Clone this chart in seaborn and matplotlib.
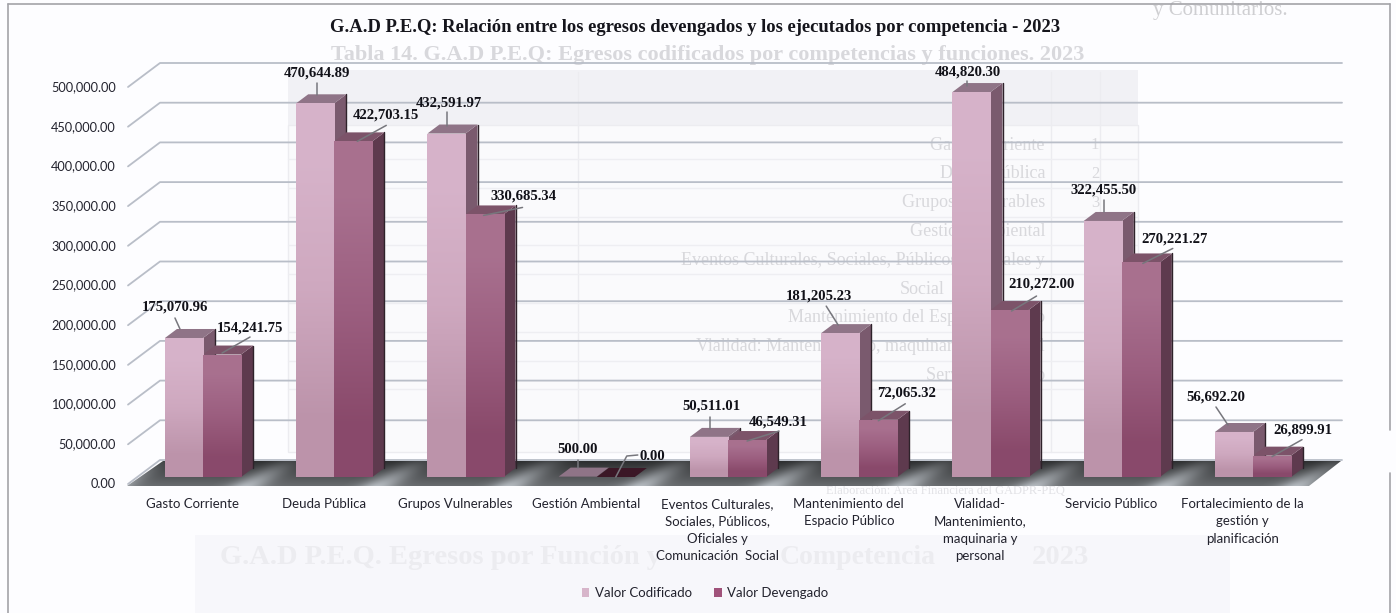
import matplotlib
matplotlib.use("Agg")
import matplotlib.pyplot as plt
from matplotlib.patches import Polygon, Rectangle
import numpy as np
import pandas as pd
import seaborn as sns

sns.set_style("white")

categorias = ['Gasto Corriente', 'Deuda Pública', 'Grupos Vulnerables', 'Gestión Ambiental',
              'Eventos Culturales,\nSociales, Públicos,\nOficiales y\nComunicación  Social',
              'Mantenimiento del\nEspacio Público',
              'Vialidad-\nMantenimiento,\nmaquinaria y\npersonal',
              'Servicio Público', 'Fortalecimiento de la\ngestión y\nplanificación']
codificado = [175070.96, 470644.89, 432591.97, 500.00, 50511.01, 181205.23, 484820.30, 322455.50, 56692.20]
devengado = [154241.75, 422703.15, 330685.34, 0.00, 46549.31, 72065.32, 210272.00, 270221.27, 26899.91]
ticks_y = [0, 50000, 100000, 150000, 200000, 250000, 300000, 350000, 400000, 450000, 500000]
titulo = 'G.A.D P.E.Q: Relación entre los egresos devengados y los ejecutados por competencia - 2023'

# faint text showing through from the back of the scanned page
fondo_filas = ['Gasto Corriente', 'Deuda Pública', 'Grupos Vulnerables', 'Gestión Ambiental',
               'Eventos Culturales, Sociales, Públicos, Oficiales y', 'Social',
               'Mantenimiento del Espacio Público', 'Vialidad: Mantenimiento, maquinaria y personal',
               'Servicio Público']
fondo_nums = ['1', '2', '3', '4', '5', '', '6', '7', '8']
fondo_fin = [1045, 1045, 1045, 1045, 1045, 945, 1045, 1045, 1045]
fondo_titulo = [('G.A.D P.E.Q. Egresos por Función y', 440, 20.5), ('Competencia', 858, 20), ('2023', 1060, 20.5)]

# label offsets from the top of each bar, in pixels: text centre, then leader points
off_cod = [((-9, 31), [(-9, 20), (-4, 9)]), ((2, 30), [(2, 20), (2, 8)]), ((2, 31), [(1, 22), (1, 8)]),
           ((0, 27), [(0, 17), (0, 9)]), ((2, 31), [(1, 20), (1, 8)]), ((-21, 37), [(-14, 27), (-2, 8)]),
           ((-4, 20), [(-4, 11), (-4, 6)]), ((1, 31), [(1, 21), (1, 9)]), ((-18, 35), [(-18, 25), (-6, 7)])]
off_dev = [((28, 26.5), [(28, 17.5), (0, 1.5)]), ((33, 26), [(33, 16), (4, 0)]), ((39, 18), [(38, 7), (-1, -1)]),
           ((37, 20), [(22, 22), (11, 21), (0, 0)]), ((31, 18), [(32, 9), (0, -1)]), ((28, 27), [(27, 16), (0, -1)]),
           ((32, 26), [(27, 14), (2, -1)]), ((34, 23), [(32, 14), (2, -1)]), ((31, 26), [(30, 16), (0, -1)])]

W, H = 1396, 613
GROUP_PX = 131.25
VAL_PX = 397 / 500000
X0_PX, Y0_PX = 203, 477
DX = 1 / GROUP_PX   # one pixel in category units
DY = 1 / VAL_PX     # one pixel in value units


def xp(px):
    return (px - X0_PX) * DX


def yp(py):
    return (Y0_PX - py) * DY


df = pd.DataFrame({
    'categoria': categorias * 2,
    'serie': ['Valor Codificado'] * 9 + ['Valor Devengado'] * 9,
    'valor': codificado + devengado,
})

fig = plt.figure(figsize=(W / 100, H / 100), dpi=100, facecolor='#FDFDFF')
ax = fig.add_axes([0, 0, 1, 1])
sns.barplot(data=df, x='categoria', y='valor', hue='serie', dodge=True, width=0.58, gap=0, ax=ax, errorbar=None,
            palette=['#D7B5CA', '#A0527A'], saturation=1, zorder=3, linewidth=0)

# ghost of the page behind
g = '#D8D8DC'
ax.add_patch(Rectangle((xp(288), yp(125)), 850 * DX, 55 * DY, fc='#F1F1F5', ec='none', zorder=0.2))
ax.add_patch(Rectangle((xp(288), yp(452)), 850 * DX, 327 * DY, fc='#FAFAFC', ec='#ECECF0', zorder=0.2))
ax.add_patch(Rectangle((xp(195), yp(H)), 1035 * DX, 78 * DY, fc='#F7F7FB', ec='none', zorder=0.2))
for px in [578, 1051, 1100]:
    ax.plot([xp(px), xp(px)], [yp(72), yp(452)], color='#ECECF0', lw=1, zorder=0.3)
ax.text(xp(1220), yp(11), 'y Comunitarios.', family='Liberation Serif', fontsize=15, color='#CFCFD2',
        ha='center', va='center', zorder=0.4)
ax.text(xp(708), yp(55), 'Tabla 14. G.A.D P.E.Q: Egresos codificados por competencias y funciones. 2023',
        family='Liberation Serif', fontweight='bold', fontsize=16, color=g, ha='center', va='center', zorder=0.4)
for i, (fila, num, fin) in enumerate(zip(fondo_filas, fondo_nums, fondo_fin)):
    py = 145 + i * 28.8
    ax.text(xp(fin), yp(py), fila, family='Liberation Serif', fontsize=13, color=g, ha='right', va='center', zorder=0.4)
    ax.text(xp(1095), yp(py), num, family='Liberation Serif', fontsize=12, color=g, ha='center', va='center', zorder=0.4)
    ax.plot([xp(288), xp(1138)], [yp(py + 14)] * 2, color='#EEEEF2', lw=1, zorder=0.3)
ax.text(xp(945), yp(491), 'Elaboración: Área Financiera del GADPR-PEQ', family='Liberation Serif', fontsize=9,
        color='#E2E2E6', ha='center', va='center', zorder=0.4)
for trozo, px, fs in fondo_titulo:
    ax.text(xp(px), yp(558), trozo, family='Liberation Serif', fontweight='bold', fontsize=fs, color='#ECECF0',
            ha='center', va='center', zorder=0.4)

# scan frame
for a, b in [((8, 4), (1390, 4)), ((8, 4), (8, H)), ((1390, 4), (1390, 430)), ((1390, 473), (1390, H))]:
    ax.plot([xp(a[0]), xp(b[0])], [yp(a[1]), yp(b[1])], color='#A3A3A8', lw=1.2, zorder=0.5)

# wall gridlines with the slanted left wall edge
for t in ticks_y:
    y_back = t + 17 * DY
    y_front = t - 7 * DY
    ax.plot([xp(128), xp(160), xp(1342)], [y_front, y_back, y_back], color='#B9BEC8', lw=1.3, zorder=1)
    ax.text(xp(116), y_front, f'{t:,.2f}', family='Lato', fontsize=9.2, color='#23232E', ha='right', va='center', zorder=5)

# floor
floor_h, floor_w = 30, 1230
yy, xx = np.mgrid[0:floor_h, 0:floor_w]
frac = yy / (floor_h - 1)
streak = np.exp(-((((xx + yy * 1.4) % GROUP_PX) - 36) / 18) ** 2)
lum = 0.18 + 0.24 * frac + streak * (0.1 + 0.2 * frac)
floor_rgb = np.clip(np.dstack([lum * 0.97, lum * 1.0, lum * 1.03]), 0, 1)
floor_x0 = 120
floor_poly = Polygon([(xp(127), yp(486)), (xp(163), yp(461)), (xp(1341), yp(461)), (xp(1309), yp(486))],
                     closed=True, fc='none', ec='none', zorder=1.5)
ax.add_patch(floor_poly)
im = ax.imshow(floor_rgb, extent=(xp(floor_x0), xp(floor_x0 + floor_w), yp(486), yp(461)), aspect='auto', zorder=1.5)
im.set_clip_path(floor_poly)

# 3D sides and tops, and a vertical gradient on each front face
ddx, ddy = 12 * DX, 9 * DY
grad_cod = np.array([[[0.84, 0.70, 0.79]], [[0.81, 0.66, 0.75]], [[0.74, 0.58, 0.67]]])
grad_dev = np.array([[[0.66, 0.44, 0.56]], [[0.61, 0.37, 0.50]], [[0.54, 0.29, 0.42]]])
conts = ax.containers
for i in range(9):
    for c, z, top, side, grad in [(conts[0], 2.0, '#8F7487', '#7A5A6E', grad_cod), (conts[1], 2.4, '#7C5369', '#5E3A4E', grad_dev)]:
        p = c[i]
        x0, x1 = p.get_x(), p.get_x() + p.get_width()
        v = p.get_height()
        if v == 0:
            top = '#3B1726'
        if v > 0:
            ax.add_patch(Polygon([(x1, 0), (x1 + ddx, ddy), (x1 + ddx, v + ddy), (x1, v)], fc=side, ec='none', zorder=z))
            ax.plot([x1 + ddx, x1 + ddx], [ddy, v + ddy], color='#2E222A', lw=1, zorder=z)
        ax.add_patch(Polygon([(x0, v), (x0 + ddx, v + ddy), (x1 + ddx, v + ddy), (x1, v)], fc=top, ec='none', zorder=z + 0.1))
        if v > 0:
            g_im = ax.imshow(grad, extent=(x0, x1, 0, v), aspect='auto', interpolation='bilinear', zorder=3.1)
            g_im.set_clip_path(p)
    ax.text(i - 10.5 * DX, yp(498), categorias[i], family='Lato', fontsize=9.5, color='#23232E', ha='center', va='top',
            linespacing=1.53, zorder=5)

# value labels and leader lines
for c, vals, offs in [(conts[0], codificado, off_cod), (conts[1], devengado, off_dev)]:
    for p, v, (lab, pts) in zip(c, vals, offs):
        cx = p.get_x() + p.get_width() / 2
        ax.plot([cx + q[0] * DX for q in pts], [v + q[1] * DY for q in pts], color='#77777D', lw=1.1, zorder=4)
        ax.text(cx + lab[0] * DX, v + lab[1] * DY, f'{v:,.2f}', family='Liberation Serif', fontweight='bold',
                fontsize=10.6, color='#111118', ha='center', va='center', zorder=5)

ax.text(xp(695), yp(28), titulo, family='Liberation Serif', fontweight='bold', fontsize=13.4, color='#15151C',
        ha='center', va='center', zorder=5)

sns.move_legend(ax, 'center', bbox_to_anchor=(705 / W, 1 - 593 / H), ncol=2, title=None, frameon=False,
                handlelength=0.6, handleheight=0.6, handletextpad=0.4, columnspacing=1.7,
                prop={'family': 'Lato', 'size': 9.5}, labelcolor='#23232E')

ax.set_xlim(xp(0), xp(W))
ax.set_ylim(yp(H), yp(0))
ax.set_xlabel('')
ax.set_ylabel('')
ax.set_axis_off()

plt.savefig('out.png', dpi=100, facecolor=fig.get_facecolor())
